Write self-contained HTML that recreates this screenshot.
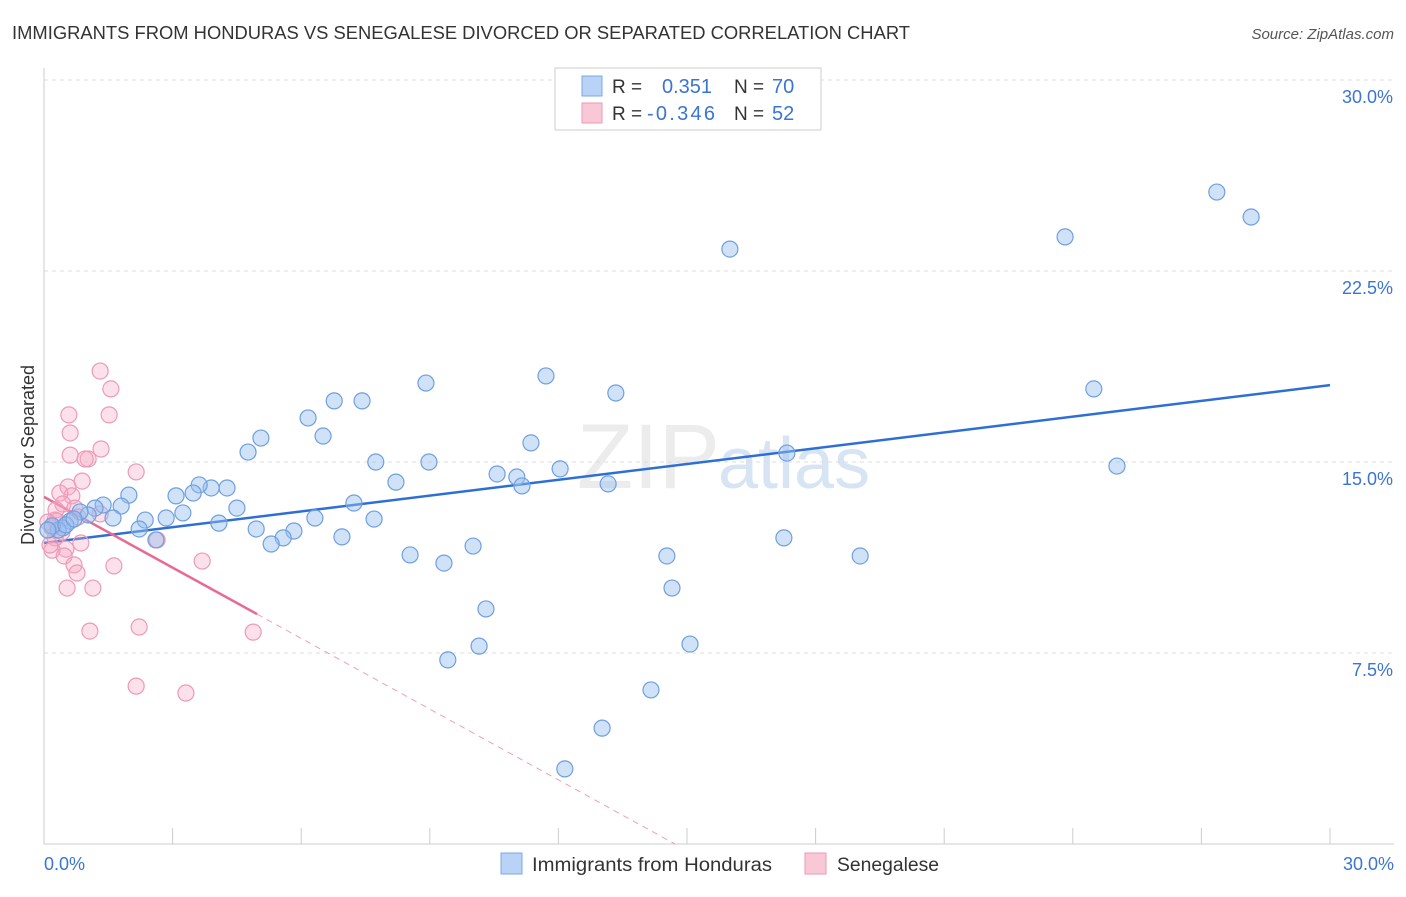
<!DOCTYPE html>
<html><head><meta charset="utf-8"><style>
body{margin:0;background:#fff;font-family:"Liberation Sans",sans-serif;}
svg text{font-family:"Liberation Sans",sans-serif;}
</style></head><body>
<svg id="chart" width="1406" height="892" viewBox="0 0 1406 892" xmlns="http://www.w3.org/2000/svg">
<text x="12" y="39" font-size="18" fill="#333" textLength="898" lengthAdjust="spacingAndGlyphs">IMMIGRANTS FROM HONDURAS VS SENEGALESE DIVORCED OR SEPARATED CORRELATION CHART</text>
<text x="1394" y="39" font-size="15" fill="#555" font-style="italic" text-anchor="end">Source: ZipAtlas.com</text>
<text x="720" y="488" font-size="92" fill="#ececec" text-anchor="end" font-family="Liberation Serif">ZIP</text>
<text x="718" y="488" font-size="72" fill="#d6e4f3">atlas</text>
<g id="grid"></g><g id="axes"></g><g id="trends"></g><g id="pts"></g>
<text transform="translate(34,455) rotate(-90)" font-size="18" fill="#333" text-anchor="middle">Divorced or Separated</text>
<g>
<rect x="555" y="68" width="266" height="62" fill="#fff" stroke="#ccc"/>
<rect x="582" y="76" width="20" height="20" fill="#b8d3f5" stroke="#7aa9e8"/>
<rect x="582" y="103" width="20" height="20" fill="#f9c8d6" stroke="#ee9ab5"/>
<text x="612" y="93" font-size="19" fill="#333">R = </text><text x="662" y="93" font-size="20" fill="#3a74d4">0.351</text>
<text x="734" y="93" font-size="19" fill="#333">N = </text><text x="772" y="93" font-size="20" fill="#3a74d4">70</text>
<text x="612" y="120" font-size="19" fill="#333">R = </text><text x="647" y="120" font-size="20" fill="#3a74d4" textLength="68">-0.346</text>
<text x="734" y="120" font-size="19" fill="#333">N = </text><text x="772" y="120" font-size="20" fill="#3a74d4">52</text>
</g>
<g>
<rect x="501" y="853" width="21" height="21" fill="#b8d3f5" stroke="#7aa9e8"/>
<text x="532" y="871" font-size="19" fill="#333" textLength="240" lengthAdjust="spacingAndGlyphs">Immigrants from Honduras</text>
<rect x="805" y="853" width="21" height="21" fill="#f9c8d6" stroke="#ee9ab5"/>
<text x="837" y="871" font-size="19" fill="#333" textLength="102" lengthAdjust="spacingAndGlyphs">Senegalese</text>
</g>
</svg>
<script>
const blueX=[27.36,28.16,16.00,23.82,24.49,25.03,11.71,8.91,13.34,6.77,7.42,6.16,5.06,6.51,4.76,11.36,7.74,8.98,12.04,10.57,11.03,11.15,13.16,17.33,8.21,7.23,7.70,6.32,6.95,5.83,5.58,5.30,4.95,4.08,4.50,4.27,3.90,3.62,3.48,3.24,3.08,2.85,2.36,2.22,1.98,1.80,1.61,1.38,1.19,1.03,0.84,0.61,0.44,0.33,0.19,0.09,2.61,8.54,9.33,10.01,14.53,19.04,17.26,14.65,10.31,15.07,9.42,10.15,14.16,13.02,12.15,0.51,0.70];
const blueY=[25.60,24.62,23.36,23.84,17.87,14.84,18.38,18.10,17.71,17.40,17.40,16.73,15.94,16.02,15.39,15.75,15.00,15.00,14.73,14.53,14.41,14.06,14.14,15.35,14.21,13.39,12.76,12.80,12.06,12.29,12.02,11.78,12.37,12.60,13.19,13.98,13.98,14.10,13.78,13.00,13.67,12.80,12.72,12.37,13.70,13.27,12.80,13.31,13.19,12.92,13.04,12.68,12.41,12.33,12.49,12.33,11.94,11.35,11.03,11.70,11.31,11.31,12.02,10.05,9.23,7.85,7.23,7.77,6.05,4.55,2.95,12.53,12.76];
const pinkX=[1.31,1.56,0.58,1.52,0.61,1.33,0.61,1.03,0.96,2.15,0.89,0.56,0.65,0.37,0.44,0.72,0.28,1.31,0.79,0.30,0.19,0.42,0.26,0.86,0.51,0.19,0.47,0.70,1.63,0.77,3.69,0.54,1.14,1.07,2.22,4.88,2.15,3.31,0.26,0.09,0.14,2.64];
const pinkY=[18.57,17.87,16.85,16.85,16.14,15.51,15.27,15.12,15.12,14.61,14.25,14.02,13.67,13.78,13.35,13.19,13.12,12.96,12.84,12.68,12.41,12.25,12.02,11.82,11.58,11.54,11.31,10.96,10.92,10.64,11.11,10.05,10.05,8.36,8.52,8.32,6.20,5.93,12.72,12.64,11.74,11.94];
const yTicks=[7.5,15.0,22.5,30.0];
const xTickLabels=["0.0%","30.0%"];
const blueTrend=[11.82,18.02];
const pinkTrend=[13.63,-0.926];
const NS='http://www.w3.org/2000/svg';
const X=v=>44+v/30*1286, Y=v=>844-v/7.5*191;
function mk(t,a,p){const e=document.createElementNS(NS,t);for(const k in a)e.setAttribute(k,a[k]);p.appendChild(e);return e;}
const grid=document.getElementById('grid'),axes=document.getElementById('axes');
yTicks.forEach(t=>{
 const l=mk('line',{x1:44,x2:1394,y1:Y(t),y2:Y(t),stroke:'#ddd','stroke-dasharray':'4,4'},grid);
 
 
 const tx=mk('text',{x:1393,y:Y(t)+23,'font-size':18,fill:'#3a74d4','text-anchor':'end'},grid);
 tx.textContent=t.toFixed(1)+'%';
 
 
});
mk('line',{x1:44,x2:44,y1:68,y2:844,stroke:'#ccc'},axes);
mk('line',{x1:44,x2:1394,y1:844,y2:844,stroke:'#ccc'},axes);
for(let i=1;i<=10;i++){const l=mk('line',{x1:X(i*3),x2:X(i*3),y1:828,y2:844,stroke:'#ccc'},axes);
 
 }
[[44,'start',0],[1394,'end',1]].forEach(([x,a,i])=>{const t=mk('text',{x:x,y:870,'font-size':18,fill:'#3a74d4','text-anchor':a},axes);t.textContent=xTickLabels[i];
 
 });
const tr=document.getElementById('trends');
const bl=mk('line',{x1:X(0),y1:Y(blueTrend[0]),x2:X(30),y2:Y(blueTrend[1]),stroke:'#2e6fd6','stroke-width':2.5},tr);


const pe=4.97, pz=-pinkTrend[0]/pinkTrend[1];
const pl=mk('line',{x1:X(0),y1:Y(pinkTrend[0]),x2:X(pe),y2:Y(pinkTrend[0]+pinkTrend[1]*pe),stroke:'#e86a94','stroke-width':2.5},tr);


const pd=mk('line',{x1:X(pe),y1:Y(pinkTrend[0]+pinkTrend[1]*pe),x2:X(pz),y2:Y(0),stroke:'#eba0b8','stroke-width':1,'stroke-dasharray':'6,5'},tr);


const pts=document.getElementById('pts');
pinkX.forEach((x,i)=>{const c=mk('circle',{cx:X(x),cy:Y(pinkY[i]),r:8,fill:'rgba(246,170,196,0.35)',stroke:'#ec9ab6','stroke-width':1.2},pts);
 
 });
blueX.forEach((x,i)=>{const c=mk('circle',{cx:X(x),cy:Y(blueY[i]),r:8,fill:'rgba(150,190,240,0.45)',stroke:'#6f9fe0','stroke-width':1.2},pts);
 
 });
</script>
</body></html>
